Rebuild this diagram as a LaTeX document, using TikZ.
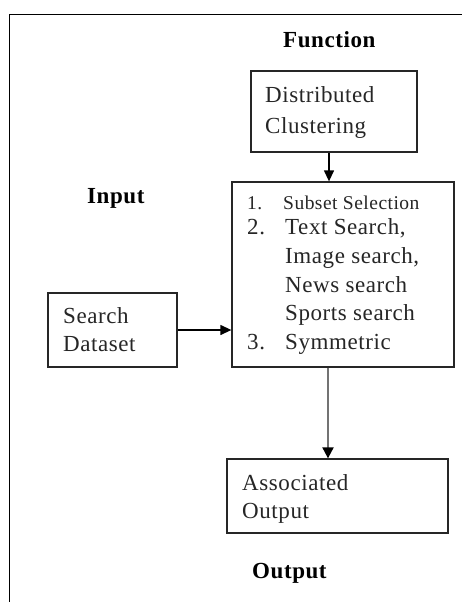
\documentclass[tikz,border=0pt]{standalone}
\usepackage{fontspec}
\setmainfont{Liberation Serif}[LetterSpace=2.5]
\usetikzlibrary{arrows.meta}
\begin{document}
\begin{tikzpicture}[x=1pt,y=-1pt,
  box/.style={draw=black!85, line width=1.3pt, rectangle, inner sep=0pt},
  txt/.style={anchor=base west, inner sep=0pt, font=\fontsize{23}{28}\selectfont, text=black!85},
  small/.style={anchor=base west, inner sep=0pt, font=\fontsize{19.5}{24}\selectfont, text=black!85},
  lbl/.style={anchor=base west, inner sep=0pt, font=\fontsize{23}{28}\selectfont\bfseries},
  arr/.style={line width=1.3pt, -{Triangle[length=11pt,width=10pt]}},
  garr/.style={draw=black!55, line width=2pt, -{Triangle[length=11pt,width=11pt,black]}}]
\useasboundingbox[fill=white] (0,0) rectangle (462,602);
% outer frame
\draw[line width=1.5pt] (9.5,602) -- (9.5,14.5) -- (462,14.5);
% boxes
\node[box, minimum width=166pt, minimum height=81pt] (dc) at (334,111.5) {};
\node[box, minimum width=222pt, minimum height=185pt] (main) at (343,274.5) {};
\node[box, minimum width=129pt, minimum height=74pt] (sd) at (112.5,330) {};
\node[box, minimum width=221pt, minimum height=74pt] (ao) at (337.5,496) {};
% labels
\node[lbl] (lf) at (283,48) {Function};
\node[lbl] (li) at (87,203) {Input};
\node[lbl] (lo) at (252,578) {Output};
% box texts
\node[txt] (t1) at (265,102) {Distributed};
\node[txt] (t2) at (265,133) {Clustering};
\node[txt] (t3) at (63,323) {Search};
\node[txt] (t4) at (63,351) {Dataset};
\node[txt] (t5) at (242,490) {Associated};
\node[txt] (t6) at (242,518) {Output};
\node[small] (n1) at (247,209) {1.};
\node[small] (m1) at (283,209) {Subset Selection};
\node[txt] (n2) at (247,234) {2.};
\node[txt] (m2) at (285,234) {Text Search,};
\node[txt] (m3) at (285,263) {Image search,};
\node[txt] (m4) at (285,292) {News search};
\node[txt] (m5) at (285,320) {Sports search};
\node[txt] (n3) at (247,349) {3.};
\node[txt] (m6) at (285,349) {Symmetric};
% connectors
\coordinate (a1) at (329,0);
\coordinate (a3) at (328,0);
\draw[arr] (a1 |- dc.south) -- (a1 |- main.north);
\draw[arr] (sd.east) -- (sd.east -| main.west);
\draw[garr] (a3 |- main.south) -- (a3 |- ao.north);
\end{tikzpicture}
\end{document}
